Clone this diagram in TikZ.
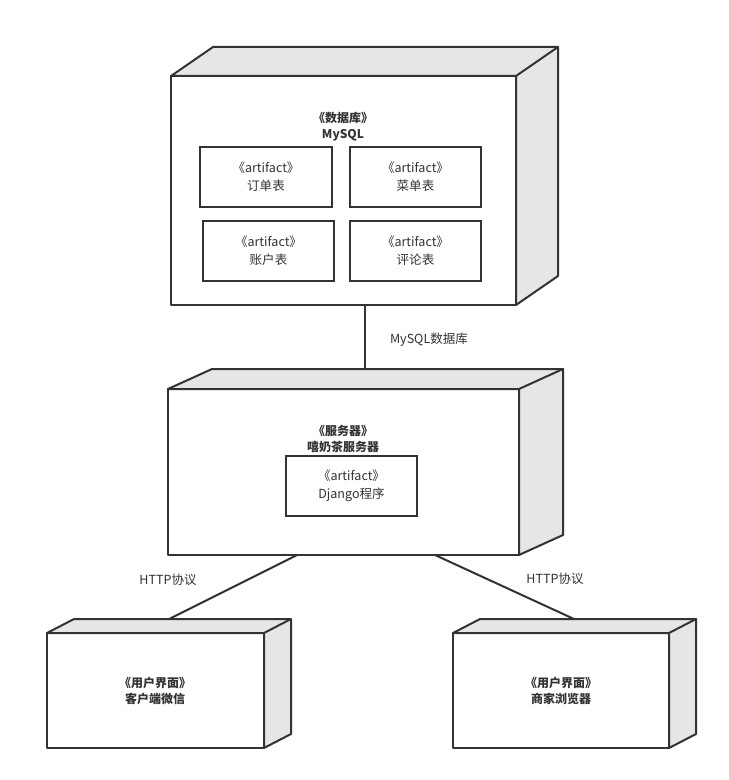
\documentclass[tikz,border=0pt]{standalone}
\usepackage{fontspec}
\setmainfont{Noto Sans CJK SC}
\usetikzlibrary{calc}
\definecolor{ink}{HTML}{333333}
\definecolor{sideface}{HTML}{E6E6E6}
\newcommand\nodedepth[3]{%
  \filldraw[depthface] (#1.north west) -- ([shift={(#2,#3)}]#1.north west) -- ([shift={(#2,#3)}]#1.north east) -- ([shift={(#2,#3)}]#1.south east) -- (#1.south east) -- (#1.north east) -- cycle;
  \draw[wire] (#1.north east) -- ([shift={(#2,#3)}]#1.north east);}
\tikzset{
  frontface/.style={draw=ink, line width=1.5pt, fill=white, outer sep=0pt, inner sep=0pt, line join=round},
  depthface/.style={draw=ink, line width=1.5pt, fill=sideface, line join=round},
  artbox/.style={draw=ink, line width=1.5pt, fill=white, outer sep=0pt, minimum width=99pt, minimum height=45pt, align=center, font=\fontsize{9.4}{13.5}\selectfont, text=ink},
  titletext/.style={font=\bfseries\fontsize{9}{12}\selectfont, align=center, text=ink},
  lbl/.style={font=\fontsize{9.4}{11}\selectfont, text=ink},
  wire/.style={draw=ink, line width=1.5pt, line cap=round},
}
\begin{document}
\begin{tikzpicture}[x=0.75pt,y=-0.75pt]
\useasboundingbox[fill=white] (0,0) rectangle (728,780);
% database node
\node[frontface, minimum width=258.75pt, minimum height=171.75pt] (db) at (343.5,190.5) {};
\nodedepth{db}{42}{-29}
\node[titletext] (dbt) at (343,126.5) {《数据库》\\MySQL};
\node[artbox] (a1) at (266,177) {《artifact》\\订单表};
\node[artbox, minimum width=98.25pt] (a2) at (415.5,177) {《artifact》\\菜单表};
\node[artbox, minimum width=98.25pt] (a3) at (268.5,251) {《artifact》\\账户表};
\node[artbox, minimum width=98.25pt] (a4) at (415.5,251) {《artifact》\\评论表};
% server node
\node[frontface, minimum width=263.25pt, minimum height=124.5pt] (srv) at (343.5,472) {};
\nodedepth{srv}{44}{-20}
\node[titletext] (srvt) at (343,438.5) {《服务器》\\嘻奶茶服务器};
\node[artbox, minimum width=98.25pt] (dj) at (351.5,486) {《artifact》\\Django程序};
% clients
\node[frontface, minimum width=162.75pt, minimum height=86.25pt] (cl) at (155.5,690.5) {};
\nodedepth{cl}{27}{-14}
\node[titletext] (clt) at (155,691) {《用户界面》\\客户端微信};
\node[frontface, minimum width=162pt, minimum height=86.25pt] (cr) at (561,690.5) {};
\nodedepth{cr}{27}{-14}
\node[titletext] (crt) at (561,691) {《用户界面》\\商家浏览器};
% connectors
\coordinate (p1) at ([shift={(194,0)}]db.south west);
\draw[wire] (p1) -- ([shift={(0,-20)}]p1 |- srv.north);
\draw[wire] ([shift={(129,0)}]srv.south west) -- ([shift={(122,-14)}]cl.north west);
\draw[wire] ([shift={(267,0)}]srv.south west) -- ([shift={(121,-14)}]cr.north west);
% labels
\node[lbl] (l1) at (429,340) {MySQL数据库};
\node[lbl] (l2) at (168,580) {HTTP协议};
\node[lbl] (l3) at (555,579) {HTTP协议};
\end{tikzpicture}
\end{document}
